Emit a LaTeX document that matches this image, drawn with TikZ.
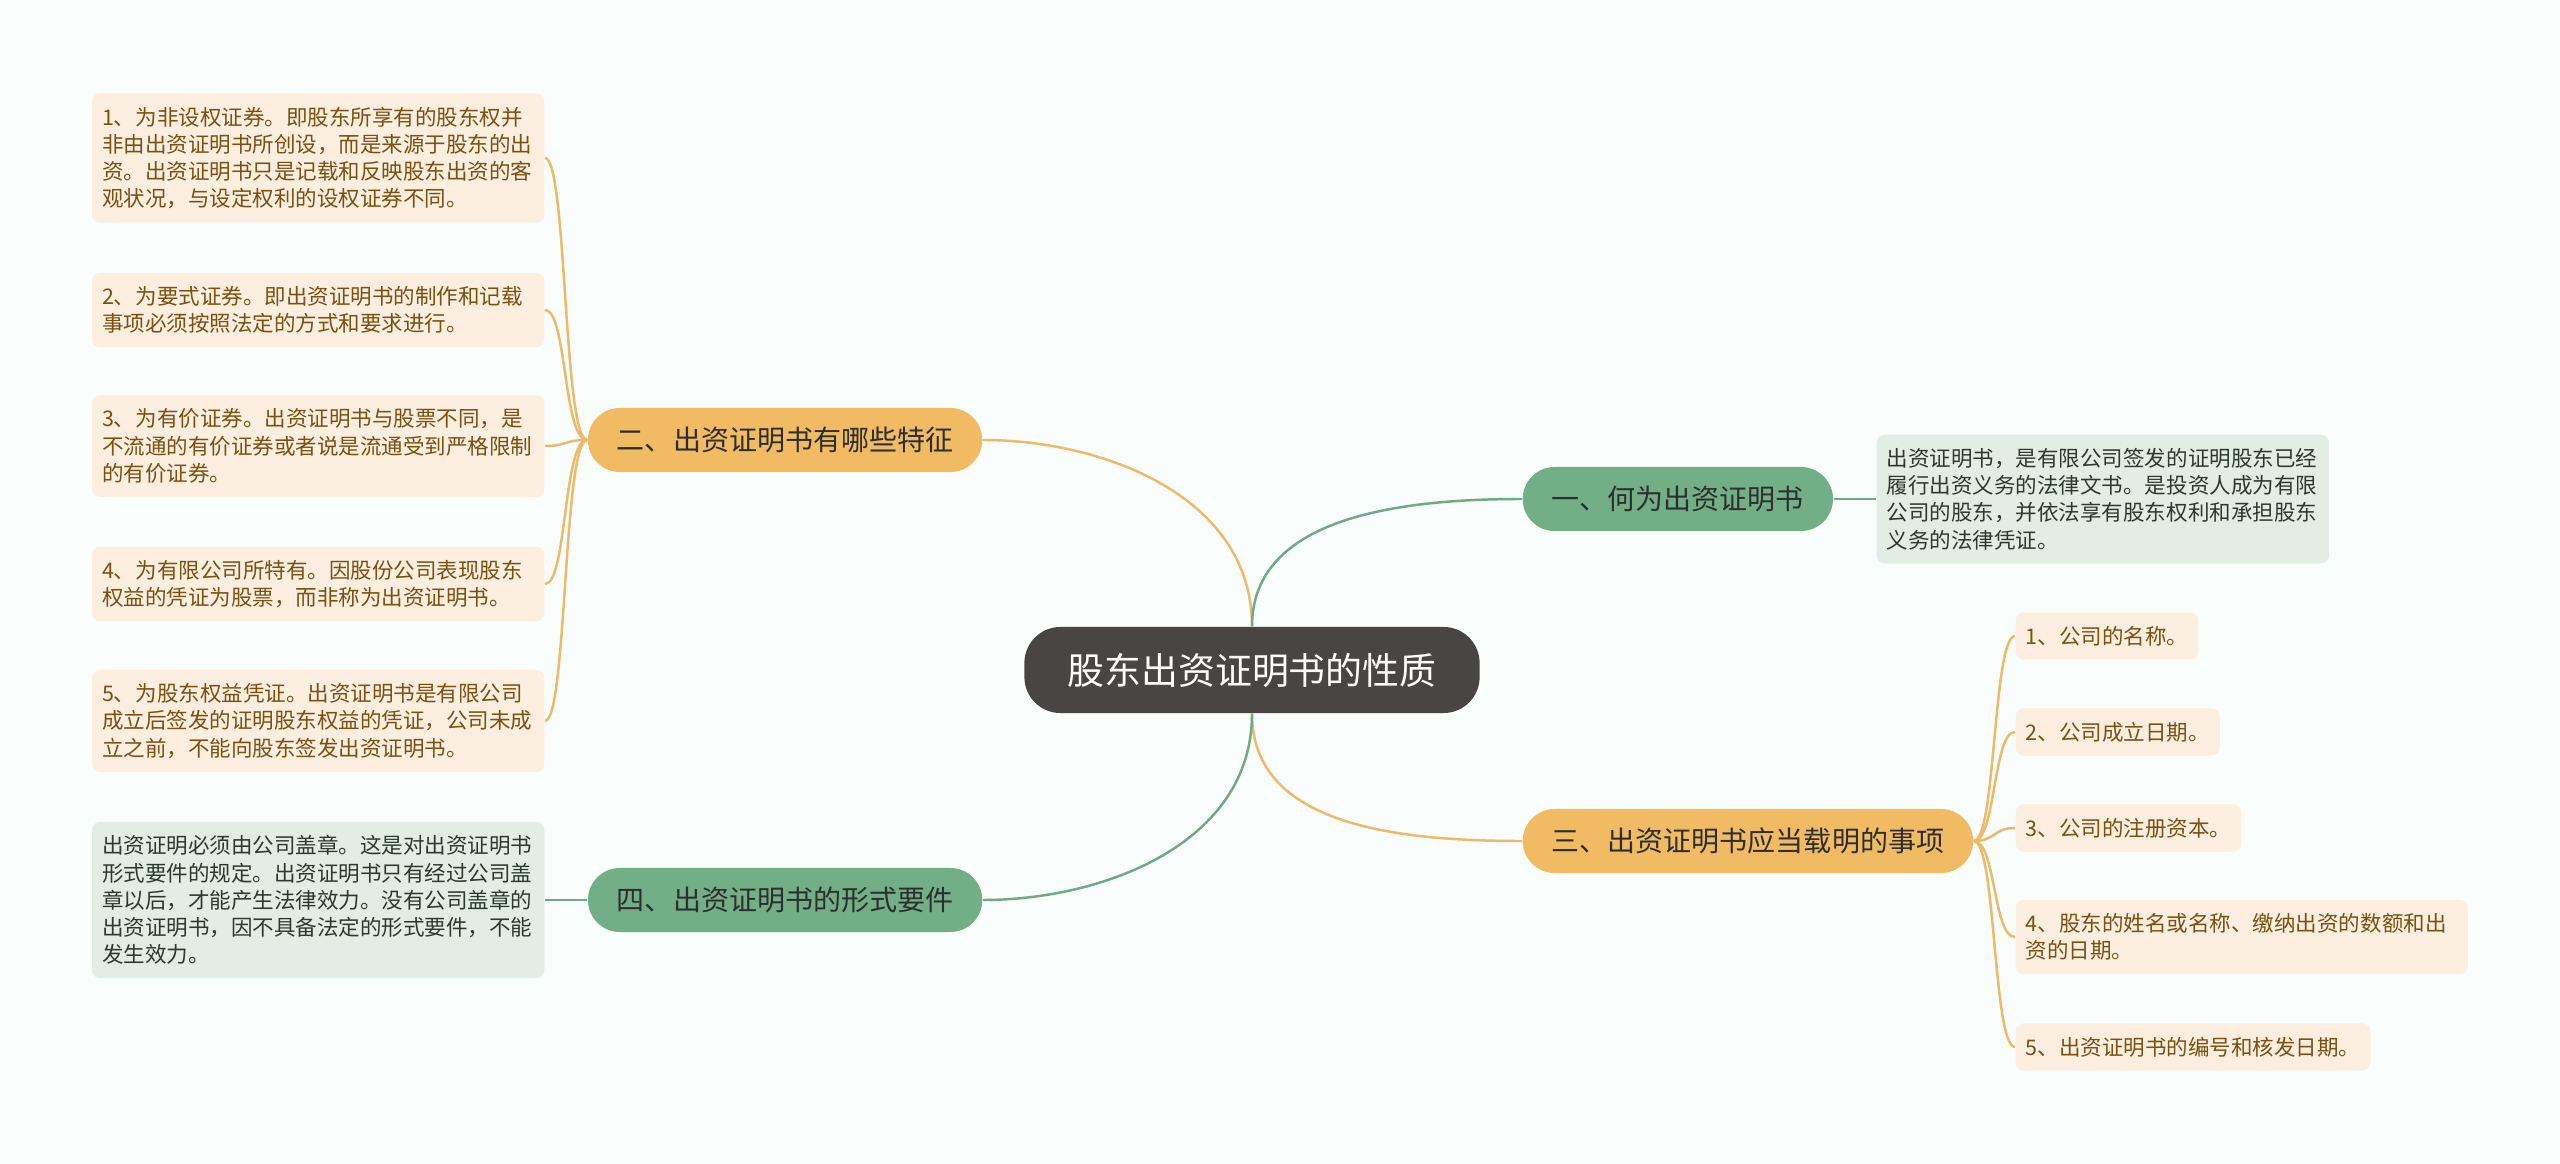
\documentclass[tikz,border=0pt]{standalone}
\usepackage{fontspec}
\setmainfont{Noto Sans CJK SC}
\usepackage{tikz}
\usetikzlibrary{positioning}

\definecolor{bgcol}{HTML}{F9FDFC}
\definecolor{rootfill}{HTML}{4A4545}
\definecolor{orfill}{HTML}{F0BB63}
\definecolor{orline}{HTML}{ECBA68}
\definecolor{grfill}{HTML}{72AF86}
\definecolor{grline}{HTML}{6FAA82}
\definecolor{topictext}{HTML}{2E2E2E}
\definecolor{orleaffill}{HTML}{FCEFE0}
\definecolor{orleaftext}{HTML}{7B5010}
\definecolor{grleaffill}{HTML}{E2EDE5}
\definecolor{grleaftext}{HTML}{2B3A2E}

\tikzset{
  rootnode/.style={fill=rootfill,text=white,rounded corners=.36cm,
    minimum width=4.55cm,minimum height=.86cm,
    font=\fontsize{10.5pt}{13pt}\selectfont},
  topic/.style={rounded corners=.32cm,minimum height=.64cm,inner xsep=.29cm,
    text=topictext,font=\fontsize{7.97pt}{9pt}\selectfont},
  ortopic/.style={topic,fill=orfill},
  grtopic/.style={topic,fill=grfill},
  leaf/.style={rounded corners=.08cm,inner xsep=.1cm,inner ysep=.135cm,
    align=left,font=\fontsize{6.12pt}{7.75pt}\selectfont},
  wideleaf/.style={leaf,text width=4.32cm},
  orleaf/.style={fill=orleaffill,text=orleaftext},
  grleaf/.style={fill=grleaffill,text=grleaftext},
  orlink/.style={draw=orline,line width=.7pt},
  grlink/.style={draw=grline,line width=.7pt},
}

\begin{document}
\begin{tikzpicture}[x=.01cm,y=-.01cm]
\fill[bgcol] (0,0) rectangle (2560,1164);
\useasboundingbox (0,0) rectangle (2560,1164);

% centre and main topics
\node[rootnode] (root) at (1252,670) {股东出资证明书的性质};
\node[grtopic,anchor=west] (what) at (1522,499) {一、何为出资证明书};
\node[ortopic,anchor=east] (feat) at (983,440) {二、出资证明书有哪些特征};
\node[ortopic,anchor=west] (items) at (1522,841) {三、出资证明书应当载明的事项};
\node[grtopic,anchor=east] (form) at (983,900) {四、出资证明书的形式要件};

% left side leaves
\node[wideleaf,orleaf,anchor=east] (f1) at (545,158) {1、为非设权证券。即股东所享有的股东权并\\非由出资证明书所创设，而是来源于股东的出\\资。出资证明书只是记载和反映股东出资的客\\观状况，与设定权利的设权证券不同。};
\node[wideleaf,orleaf,anchor=east] (f2) at (545,310) {2、为要式证券。即出资证明书的制作和记载\\事项必须按照法定的方式和要求进行。};
\node[wideleaf,orleaf,anchor=east] (f3) at (545,446) {3、为有价证券。出资证明书与股票不同，是\\不流通的有价证券或者说是流通受到严格限制\\的有价证券。};
\node[wideleaf,orleaf,anchor=east] (f4) at (545,584) {4、为有限公司所特有。因股份公司表现股东\\权益的凭证为股票，而非称为出资证明书。};
\node[wideleaf,orleaf,anchor=east] (f5) at (545,721) {5、为股东权益凭证。出资证明书是有限公司\\成立后签发的证明股东权益的凭证，公司未成\\立之前，不能向股东签发出资证明书。};
\node[wideleaf,grleaf,anchor=east] (seal) at (545,900) {出资证明必须由公司盖章。这是对出资证明书\\形式要件的规定。出资证明书只有经过公司盖\\章以后，才能产生法律效力。没有公司盖章的\\出资证明书，因不具备法定的形式要件，不能\\发生效力。};

% right side leaves
\node[wideleaf,grleaf,anchor=west] (def) at (1876,499) {出资证明书，是有限公司签发的证明股东已经\\履行出资义务的法律文书。是投资人成为有限\\公司的股东，并依法享有股东权利和承担股东\\义务的法律凭证。};
\node[leaf,orleaf,anchor=west] (i1) at (2015,636) {1、公司的名称。};
\node[leaf,orleaf,anchor=west] (i2) at (2015,732) {2、公司成立日期。};
\node[leaf,orleaf,anchor=west] (i3) at (2015,828) {3、公司的注册资本。};
\node[wideleaf,orleaf,anchor=west] (i4) at (2015,937) {4、股东的姓名或名称、缴纳出资的数额和出\\资的日期。};
\node[leaf,orleaf,anchor=west] (i5) at (2015,1047) {5、出资证明书的编号和核发日期。};

% links
\draw[orlink] (root.north) .. controls +(0,-130) and +(120,0) .. (feat.east);
\draw[grlink] (root.north) .. controls +(0,-110) and +(-120,0) .. (what.west);
\draw[orlink] (root.south) .. controls +(0,110) and +(-130,0) .. (items.west);
\draw[grlink] (root.south) .. controls +(0,130) and +(120,0) .. (form.east);
\foreach \n in {f1,f2,f3,f4,f5}
  \draw[orlink] (feat.west) .. controls +(-24,0) and +(22,0) .. (\n.east);
\foreach \n in {i1,i2,i3,i4,i5}
  \draw[orlink] (items.east) .. controls +(22,0) and +(-22,0) .. (\n.west);
\draw[grlink] (what.east) -- (def.west);
\draw[grlink] (form.west) -- (seal.east);
\end{tikzpicture}
\end{document}
